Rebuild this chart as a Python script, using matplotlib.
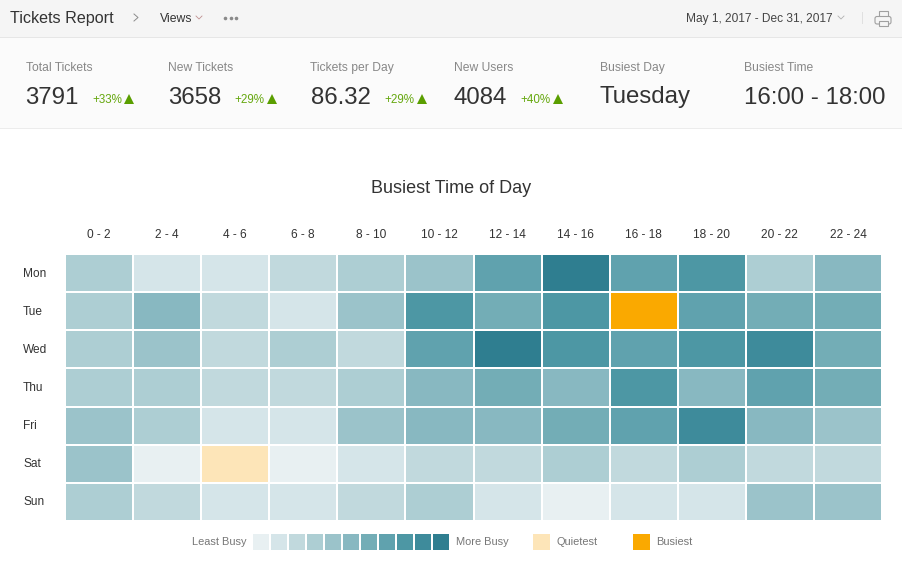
import numpy as np
import matplotlib
matplotlib.use('Agg')
import matplotlib.pyplot as plt
from matplotlib.colors import ListedColormap, BoundaryNorm
from matplotlib.patches import Rectangle, FancyBboxPatch
from matplotlib.transforms import ScaledTranslation

plt.rcParams['font.family'] = ['Liberation Sans', 'DejaVu Sans']

# Dati
hours = ['0 - 2', '2 - 4', '4 - 6', '6 - 8', '8 - 10', '10 - 12',
         '12 - 14', '14 - 16', '16 - 18', '18 - 20', '20 - 22', '22 - 24']
days = ['Mon', 'Tue', 'Wed', 'Thu', 'Fri', 'Sat', 'Sun']

# livelli 0-10, -1 = quietest, 11 = busiest
mon = [3, 1, 1, 2, 3, 4, 7, 10, 7, 8, 3, 5]
tue = [3, 5, 2, 1, 4, 8, 6, 8, 11, 7, 6, 6]
wed = [3, 4, 2, 3, 2, 7, 10, 8, 7, 8, 9, 6]
thu = [3, 3, 2, 2, 3, 5, 6, 5, 8, 5, 7, 6]
fri = [4, 3, 1, 1, 4, 5, 5, 6, 7, 9, 5, 4]
sat = [4, 0, -1, 0, 1, 2, 2, 3, 2, 3, 2, 2]
sun = [3, 2, 1, 1, 2, 3, 1, 0, 1, 1, 4, 4]

legend_levels = [0, 1, 2, 3, 4, 5, 6, 7, 8, 9, 10]

stat_labels = ['Total Tickets', 'New Tickets', 'Tickets per Day', 'New Users', 'Busiest Day', 'Busiest Time']
stat_values = ['3791', '3658', '86.32', '4084', 'Tuesday', '16:00 - 18:00']
stat_deltas = ['+33%', '+29%', '+29%', '+40%']

colors = ['#fde5b8', '#e8f0f2', '#d5e5e9', '#c1d9dd', '#adced3', '#9bc3ca', '#88b8c1',
          '#73adb6', '#60a2ae', '#4d97a4', '#3e8b9b', '#2f7e90', '#faa900']
cmap = ListedColormap(colors)
norm = BoundaryNorm(np.arange(-1.5, 12.5), cmap.N)

W, H = 902, 582
GAP = 2 * 72 / 100  # 2 pixel in punti
fig = plt.figure(figsize=(W / 100, H / 100), dpi=100, facecolor='white')


def px_axes(x0, y0, x1, y1):
    # assi posizionati in pixel (origine in alto a sinistra)
    return fig.add_axes([x0 / W, 1 - y1 / H, (x1 - x0) / W, (y1 - y0) / H])


# Sfondo e testi, coordinate pixel
bg = px_axes(0, 0, W, H)
bg.set_xlim(0, W)
bg.set_ylim(H, 0)
bg.axis('off')
bg.add_patch(Rectangle((0, 0), W, 37, fc='#f5f5f5', ec='none'))
bg.add_patch(Rectangle((0, 37), W, 91, fc='#fbfbfb', ec='none'))
bg.add_patch(Rectangle((0, 37), W, 1, fc='#e6e6e6', ec='none'))
bg.add_patch(Rectangle((0, 128), W, 1, fc='#ececec', ec='none'))

bg.text(10, 23, 'Tickets Report', fontsize=11.6, color='#333333')
bg.plot([134, 138, 134], [14, 17.5, 21], color='#8c8c8c', lw=0.7)
bg.text(160, 22, 'Views', fontsize=8.8, color='#333333')
bg.plot([196, 199, 202], [16, 19, 16], color='#c09090', lw=0.6)
bg.plot([224.5, 230.5, 236], [18, 18, 18], ls='none', marker='o', ms=2.6, color='#8a8a8a', mew=0)

bg.text(686.5, 22, 'May 1, 2017 - Dec 31, 2017', fontsize=8.6, color='#444444')
bg.plot([838, 841, 844], [16, 19, 16], color='#b0b0b0', lw=0.6)
bg.plot([861.5, 861.5], [12, 23], color='#e0e0e0', lw=0.72)
# stampante
bg.add_patch(Rectangle((878.5, 10.5), 9, 8, fc='none', ec='#a0a0a0', lw=0.8))
bg.add_patch(FancyBboxPatch((875, 16.5), 16, 7.5, boxstyle='round,pad=0,rounding_size=2', fc='#f5f5f5', ec='#a0a0a0', lw=0.8))
bg.add_patch(Rectangle((878.5, 20.5), 9, 5, fc='#f5f5f5', ec='#a0a0a0', lw=0.8))

stat_x = [25.5, 168, 310.5, 454, 600, 744.5]
delta_x = [92, 234.5, 384.5, 520.5]
for x, lab, val in zip(stat_x, stat_labels, stat_values):
    bg.text(x, 71, lab, fontsize=8.7, color='#888888')
    bg.text(x, 103.5, val, fontsize=17.3, color='#333333')
for x, d in zip(delta_x, stat_deltas):
    bg.text(x, 103, d, fontsize=8.4, color='#66a80f')
    bg.plot([x + 37], [99], marker='^', ms=7, color='#5a9e00', mew=0)

bg.text(451, 193, 'Busiest Time of Day', fontsize=13, color='#333333', ha='center')

# Heatmap
values = np.array([mon, tue, wed, thu, fri, sat, sun])
ax = px_axes(65, 254, 882, 521)
ax.pcolormesh(values, cmap=cmap, norm=norm)
ax.vlines(np.arange(len(hours) + 1), 0, len(days), color='white', lw=GAP)
ax.hlines(np.arange(len(days) + 1), 0, len(hours), color='white', lw=GAP)
ax.set_ylim(len(days), 0)
ax.set_xlim(0, len(hours))
ax.xaxis.tick_top()
ax.set_xticks(np.arange(len(hours)) + 0.5, hours, fontsize=8.6, color='#333333')
ax.set_yticks(np.arange(len(days)) + 0.5, days, fontsize=8.6, color='#333333')
ax.tick_params(length=0)
ax.tick_params(axis='x', pad=9.4)
ax.tick_params(axis='y', pad=30.2)
shift = ScaledTranslation(0, 1 / 100, fig.dpi_scale_trans)
for lab in ax.get_yticklabels():
    lab.set_ha('left')
    lab.set_transform(lab.get_transform() + shift)
for s in ax.spines.values():
    s.set_visible(False)

# Legenda
lax = px_axes(252, 533.5, 450.3, 550)
lax.pcolormesh(np.array([legend_levels]), cmap=cmap, norm=norm)
lax.vlines(np.arange(len(legend_levels) + 1), 0, 1, color='white', lw=GAP)
lax.set_xlim(0, len(legend_levels))
lax.axis('off')

qax = px_axes(533, 533.5, 550, 550)
qax.pcolormesh(np.array([[-1]]), cmap=cmap, norm=norm)
qax.axis('off')
bax = px_axes(633, 533.5, 649.5, 550)
bax.pcolormesh(np.array([[11]]), cmap=cmap, norm=norm)
bax.axis('off')

fg = px_axes(0, 0, W, H)
fg.set_xlim(0, W)
fg.set_ylim(H, 0)
fg.axis('off')
fg.patch.set_alpha(0)
for x, t, ha in [(246, 'Least Busy', 'right'), (456, 'More Busy', 'left'),
                 (556.5, 'Quietest', 'left'), (656.5, 'Busiest', 'left')]:
    fg.text(x, 545, t, fontsize=7.9, color='#777777', ha=ha)

fig.savefig('out.png', dpi=100)
